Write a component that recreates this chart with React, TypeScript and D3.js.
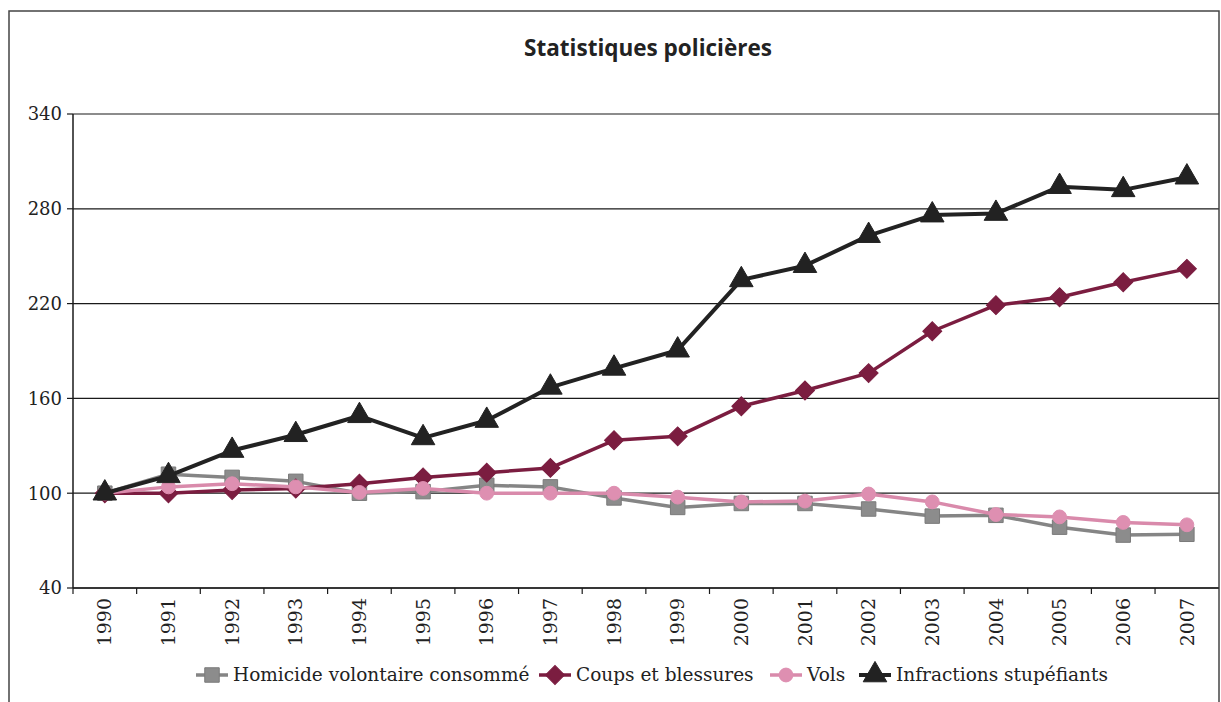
import { useMemo } from 'react'
import * as d3 from 'd3'

// --- DATA ---
const years = [
  '1990', '1991', '1992', '1993', '1994', '1995', '1996', '1997', '1998',
  '1999', '2000', '2001', '2002', '2003', '2004', '2005', '2006', '2007',
]
const homicide = [100, 112, 110, 107.5, 100, 101, 105, 104, 97, 91, 93.5, 93.5, 90, 85.5, 86, 78.5, 73.5, 74]
const coups = [100, 100, 102, 103, 106, 110, 113, 116, 133.5, 136, 155, 165, 176, 202.5, 219, 224, 233.5, 242]
const vols = [100, 104, 106, 104, 100.5, 103, 100, 100, 100, 97.5, 94.5, 95, 99.5, 94.5, 86.5, 85, 81.5, 80]
const stupefiants = [100, 111, 127, 137, 149, 135, 146, 167, 179, 190.5, 235, 244, 263, 276, 277, 294, 292, 300]
const yTicks = [40, 100, 160, 220, 280, 340]

type Marker = 'square' | 'diamond' | 'circle' | 'triangle'
type Series = { name: string; values: number[]; color: string; fill: string; width: number; marker: Marker }

const series: Series[] = [
  { name: 'Homicide volontaire consommé', values: homicide, color: '#858585', fill: '#8c8c8c', width: 3.5, marker: 'square' },
  { name: 'Coups et blessures', values: coups, color: '#7b1d40', fill: '#7b1d40', width: 3.5, marker: 'diamond' },
  { name: 'Vols', values: vols, color: '#d98aab', fill: '#de8fb1', width: 3.5, marker: 'circle' },
  { name: 'Infractions stupéfiants', values: stupefiants, color: '#222222', fill: '#222222', width: 4, marker: 'triangle' },
]

const W = 1221
const H = 702
const left = 73
const right = 1218.7
const top = 114
const bottom = 588
const serif = '"DejaVu Serif", serif'

const markerPath = (m: Marker) => {
  if (m === 'square') return d3.symbol(d3.symbolSquare, 210)()
  if (m === 'diamond') return d3.symbol(d3.symbolSquare, 180)()
  if (m === 'circle') return d3.symbol(d3.symbolCircle, 150)()
  return d3.symbol(d3.symbolTriangle, 240)()
}

function MarkerShape({ s, x, y }: { s: Series; x: number; y: number }) {
  const rot = s.marker === 'diamond' ? ' rotate(45)' : ''
  return (
    <path
      d={markerPath(s.marker) || ''}
      transform={`translate(${x},${y})${rot}`}
      fill={s.fill}
      stroke={s.marker === 'square' ? '#7a7a7a' : s.fill}
      strokeWidth={1}
    />
  )
}

export default function App() {
  const x = useMemo(() => d3.scaleBand<string>().domain(years).range([left, right]).padding(0), [])
  const y = useMemo(() => d3.scaleLinear().domain([40, 340]).range([bottom, top]), [])
  const bw = x.bandwidth()
  const cx = (yr: string) => (x(yr) ?? 0) + bw / 2

  const line = d3
    .line<number>()
    .x((_, i) => cx(years[i]))
    .y((v) => y(v))

  // legend layout
  const legendY = 675
  const legendItems = [
    { s: series[0], x0: 196 },
    { s: series[1], x0: 539 },
    { s: series[2], x0: 770 },
    { s: series[3], x0: 859 },
  ]

  return (
    <svg
      width={W}
      height={H}
      style={{ position: 'absolute', left: 0, top: 0, background: '#fff' }}
    >
      {/* frame */}
      <rect x={9} y={11} width={1210} height={720} fill="none" stroke="#444" strokeWidth={1.5} />

      <text
        x={648}
        y={56}
        textAnchor="middle"
        fontFamily='"Open Sans", sans-serif'
        fontWeight={700}
        fontSize={22.5}
        fill="#222"
      >
        Statistiques policières
      </text>

      {/* gridlines + y ticks */}
      {yTicks.map((t) => (
        <g key={t}>
          <line x1={left} x2={right} y1={y(t)} y2={y(t)} stroke="#1a1a1a" strokeWidth={1.2} />
          <line x1={left - 6} x2={left} y1={y(t)} y2={y(t)} stroke="#1a1a1a" strokeWidth={1.2} />
          <text
            x={left - 11}
            y={y(t)}
            dy="0.35em"
            textAnchor="end"
            fontFamily={serif}
            fontSize={18}
            fill="#222"
          >
            {t}
          </text>
        </g>
      ))}

      {/* axes */}
      <line x1={left} x2={left} y1={top} y2={bottom} stroke="#1a1a1a" strokeWidth={1.5} />
      <line x1={left} x2={right} y1={bottom} y2={bottom} stroke="#1a1a1a" strokeWidth={1.5} />
      {years.map((yr) => (
        <line
          key={'t' + yr}
          x1={x(yr)}
          x2={x(yr)}
          y1={bottom}
          y2={bottom + 6}
          stroke="#1a1a1a"
          strokeWidth={1.2}
        />
      ))}
      {years.map((yr) => (
        <text
          key={'l' + yr}
          transform={`translate(${cx(yr)},${bottom + 10}) rotate(-90)`}
          dy="0.35em"
          textAnchor="end"
          fontFamily={serif}
          fontSize={19}
          fill="#222"
        >
          {yr}
        </text>
      ))}

      {/* series */}
      {series.map((s) => (
        <g key={s.name}>
          <path d={line(s.values) || ''} fill="none" stroke={s.color} strokeWidth={s.width} strokeLinejoin="round" />
          {s.values.map((v, i) => (
            <MarkerShape key={i} s={s} x={cx(years[i])} y={y(v)} />
          ))}
        </g>
      ))}

      {/* legend */}
      {legendItems.map(({ s, x0 }) => (
        <g key={'lg' + s.name}>
          <line x1={x0} x2={x0 + 32} y1={legendY} y2={legendY} stroke={s.color} strokeWidth={s.width} />
          <MarkerShape s={s} x={x0 + 16} y={legendY} />
          <text
            x={x0 + 37}
            y={legendY}
            dy="0.35em"
            fontFamily={serif}
            fontSize={18.5}
            fill="#222"
          >
            {s.name}
          </text>
        </g>
      ))}
    </svg>
  )
}
